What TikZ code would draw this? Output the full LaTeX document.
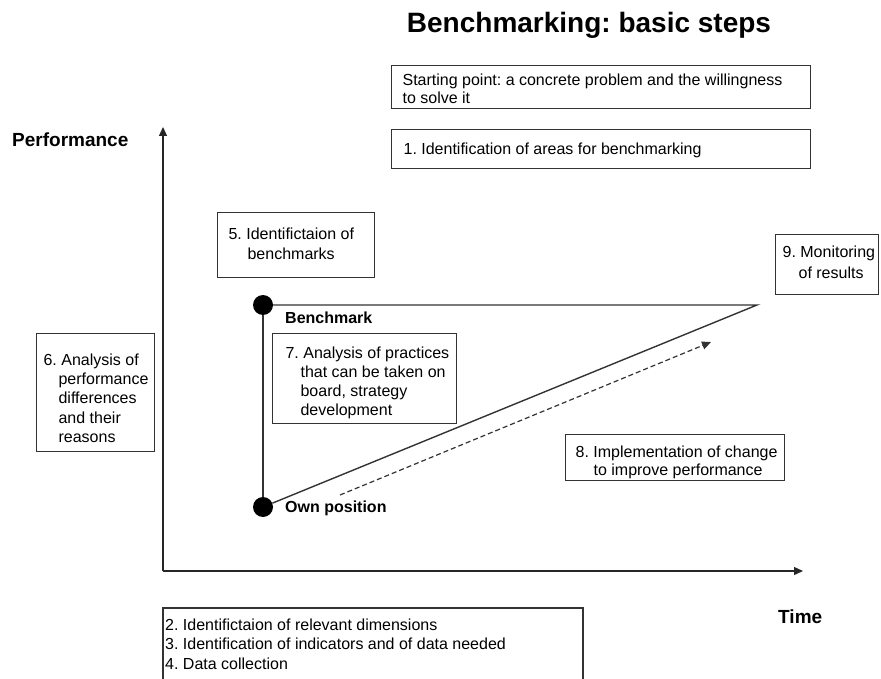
\documentclass[tikz,border=0pt]{standalone}
\usepackage{fontspec}
\setmainfont{Liberation Sans}
\usetikzlibrary{arrows.meta}
\frenchspacing
\newcommand{\bt}[3]{\raisebox{#2}[\height][\depth]{\makebox[#1][l]{\begin{tabular}{@{}l@{}}#3\end{tabular}}}}
\newcommand{\hin}[1][16pt]{\hspace*{#1}}
\begin{document}
\frenchspacing
\begin{tikzpicture}[x=1pt,y=-1pt,
  boxline/.style={draw=black!80, line width=1.2pt},
  box/.style={boxline, anchor=north west, inner ysep=0pt, font=\fontsize{16}{19}\selectfont},
  lab/.style={inner sep=0pt, anchor=base west, font=\bfseries\fontsize{16}{19}\selectfont},
  axis/.style={draw=black!85, line width=1.3pt, -{Triangle[length=9pt,width=8pt]}},
  dot/.style={circle, fill=black, inner sep=0pt, minimum size=20pt}]
\useasboundingbox (0,0) rectangle (881,679);

% title
\node[inner sep=0pt, anchor=base, font=\bfseries\fontsize{28}{32}\selectfont] (title) at (589,33) {Benchmarking: basic steps};

% top boxes
\node[box, font=\fontsize{16}{18}\selectfont, minimum width=419pt, minimum height=43pt, inner xsep=11pt] (start) at (391,65)
  {\bt{397pt}{-4pt}{Starting point: a concrete problem and the willingness\\to solve it}};
\node[box, minimum width=419pt, minimum height=39pt, inner xsep=12pt] (s1) at (391,129)
  {\bt{395pt}{-2pt}{1. Identification of areas for benchmarking}};

% axes
\coordinate (O) at (163,571);
\coordinate (ytip) at (163,127);
\coordinate (xtip) at (803,571);
\draw[axis] (O) -- (ytip);
\draw[axis] (O) -- (xtip);
\node[inner sep=0pt, anchor=base west, font=\bfseries\fontsize{19}{22}\selectfont] (perf) at (12,147) {Performance};
\node[inner sep=0pt, anchor=base west, font=\bfseries\fontsize{19}{22}\selectfont] (time) at (778,623) {Time};

% side boxes
\node[box, font=\fontsize{16}{19.3}\selectfont, minimum width=118pt, minimum height=118pt, inner xsep=7pt] (s6) at (36,333)
  {\bt{104pt}{-7.5pt}{6. Analysis of\\\hin[15pt]performance\\\hin[15pt]differences\\\hin[15pt]and their\\\hin[15pt]reasons}};
\node[box, font=\fontsize{16}{20}\selectfont, minimum width=157pt, minimum height=65pt, inner xsep=11pt] (s5) at (217,212)
  {\bt{135pt}{0pt}{5. Identifictaion of\\\hin[19pt]benchmarks}};
\node[box, font=\fontsize{16}{21}\selectfont, minimum width=103pt, minimum height=60pt, inner xsep=7pt] (s9) at (775,234)
  {\bt{89pt}{1pt}{9. Monitoring\\\hin[16pt]of results}};
\node[box, font=\fontsize{16}{19.3}\selectfont, minimum width=184pt, minimum height=90pt, inner xsep=13pt] (s7) at (272,333)
  {\bt{158pt}{-4.5pt}{7. Analysis of practices\\\hin[15pt]that can be taken on\\\hin[15pt]board, strategy\\\hin[15pt]development}};
\node[box, font=\fontsize{16}{18}\selectfont, minimum width=219pt, minimum height=46pt, inner xsep=10pt] (s8) at (565,434)
  {\bt{199pt}{-5.5pt}{8. Implementation of change\\\hin[18pt]to improve performance}};

% triangle
\node[dot] (bm) at (263,305) {};
\node[dot] (own) at (263,507) {};
\coordinate (peak) at (757,305);
\draw[boxline, line width=1.4pt] (bm) -- (peak) -- (own);
\draw[boxline, line width=1.4pt] (bm) -- (own);
\node[lab] (bmlab) at (285,323) {Benchmark};
\node[lab] (ownlab) at (285,512) {Own position};

% dashed arrow
\coordinate (d1) at (340,495);
\coordinate (d2) at (711,342);
\draw[draw=black!80, line width=1.2pt, dash pattern=on 5pt off 3pt, -{Triangle[length=9pt,width=8pt]}] (d1) -- (d2);

% bottom box
\draw[boxline] (163,692) |- (583,608) -- (583,692);
\node[inner sep=0pt, anchor=north west, font=\fontsize{16}{19.5}\selectfont] (steps) at (165,616.5)
  {\begin{tabular}{@{}l@{}}2. Identifictaion of relevant dimensions\\3. Identification of indicators and of data needed\\4. Data collection\end{tabular}};
\end{tikzpicture}
\end{document}
